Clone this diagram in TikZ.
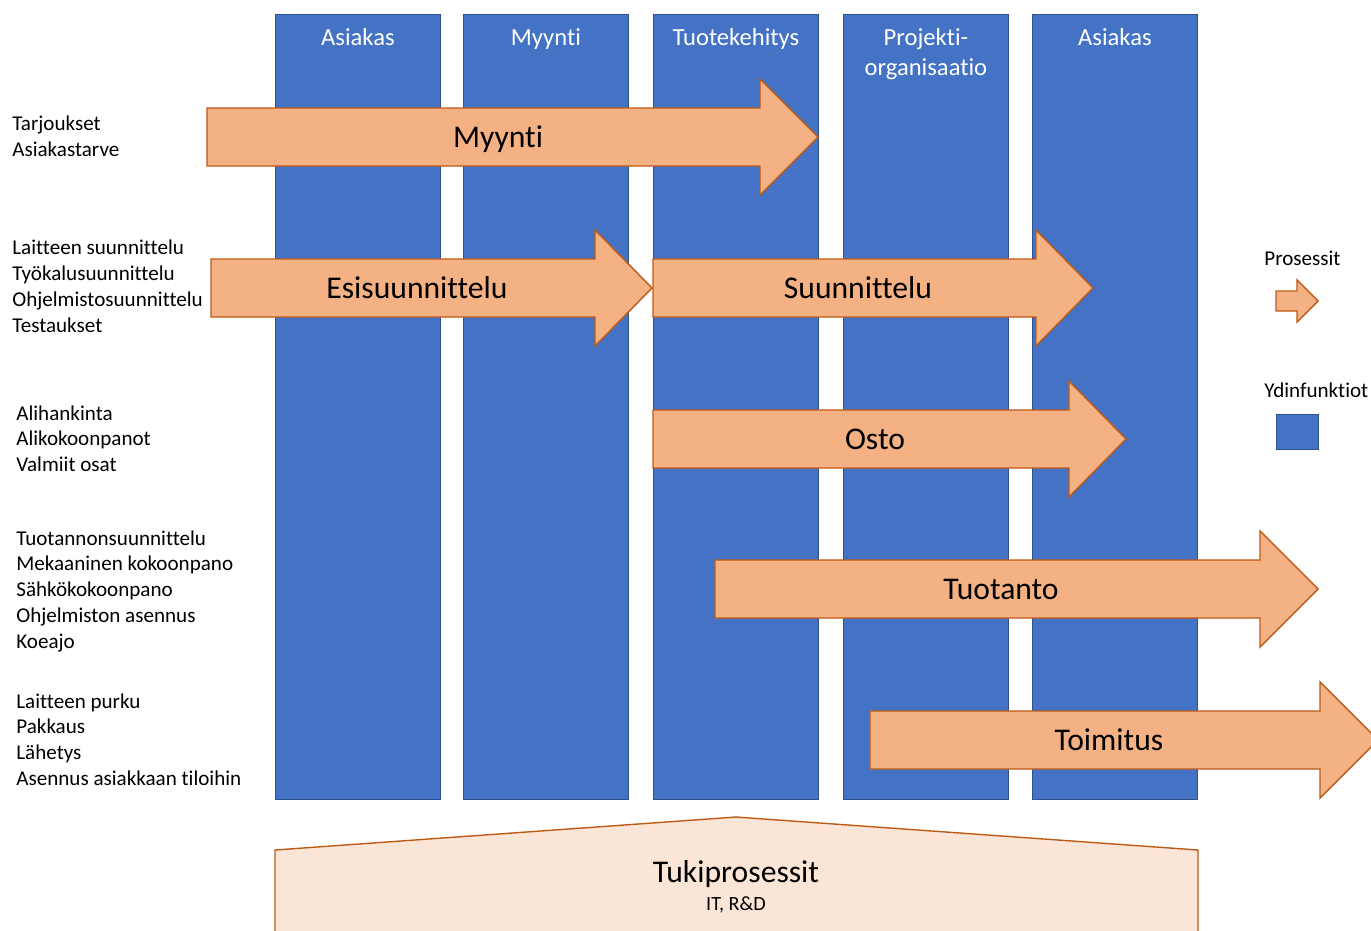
\documentclass[tikz,border=0pt]{standalone}
\usepackage{fontspec}
\setmainfont{Carlito}[Ligatures={NoCommon}]
\usepackage{tikz}
\usetikzlibrary{positioning}
\definecolor{ydinc}{HTML}{4472C4}
\definecolor{ydinrc}{HTML}{2F528F}
\definecolor{prosc}{HTML}{F4B183}
\definecolor{prosrc}{HTML}{BE5A17}
\definecolor{tukic}{HTML}{FBE5D6}

\begin{document}
\begin{tikzpicture}[x=0.02cm, y=-0.02cm,
  ydin/.style={draw=ydinrc, fill=ydinc, line width=0.5pt, inner sep=0pt,
    minimum width=3.3cm, minimum height=15.7cm},
  otsikko/.style={font=\fontsize{14}{17}\selectfont, text=white, align=center, inner sep=0pt},
  prosessi/.style={draw=prosrc, fill=prosc, line width=0.8pt, line join=miter},
  proslbl/.style={font=\fontsize{18}{22}\selectfont, inner sep=0pt},
  kuvaus/.style={font=\fontsize{12}{14.7}\selectfont, align=left, inner sep=0pt},
  selite/.style={font=\fontsize{12}{14.7}\selectfont, inner sep=0pt},
  tuki/.style={draw=prosrc, fill=tukic, line width=0.8pt}
]
  \useasboundingbox (0,0) rectangle (1371,930);
  \clip (0,0) rectangle (1371,930);

  % ydinfunktiot
  \foreach \x/\n/\t in {275/k1/Asiakas, 463/k2/Myynti, 653/k3/Tuotekehitys,
                        843/k4/{Projekti-\\organisaatio}, 1032/k5/Asiakas}{
    \node[ydin, anchor=north west] (\n) at (\x,14) {};
    \node[otsikko, anchor=north] (\n-t) at ([yshift=-0.28cm]\n.north) {\t};
  }

  % prosessit
  \foreach \xa/\xb/\xt/\yc/\lbl/\xl in {207/760/818/137/Myynti/498,
      211/595/652/288/Esisuunnittelu/417, 653/1036/1093/288/Suunnittelu/858,
      653/1069/1126/439/Osto/875, 715/1260/1318/589/Tuotanto/1001,
      870/1320/1378/740/Toimitus/1109}{
    \draw[prosessi] (\xa,\yc-29) -- (\xb,\yc-29) -- (\xb,\yc-58) -- (\xt,\yc)
      -- (\xb,\yc+58) -- (\xb,\yc+29) -- (\xa,\yc+29) -- cycle;
    \node[proslbl, anchor=base] (\lbl) at (\xl,\yc+10) {\lbl};
  }

  \node[kuvaus, anchor=north west] (myyntisis) at (12,116) {Tarjoukset\\Asiakastarve};
  \node[kuvaus, anchor=north west] (suunsis) at (12,240)
    {Laitteen suunnittelu\\Työkalusuunnittelu\\Ohjelmistosuunnittelu\\Testaukset};
  \node[kuvaus, anchor=north west] (ostosis) at (16,405)
    {Alihankinta\\Alikokoonpanot\\Valmiit osat};
  \node[kuvaus, anchor=north west] (tuotsis) at (16,530)
    {Tuotannonsuunnittelu\\Mekaaninen kokoonpano\\Sähkökokoonpano\\Ohjelmiston asennus\\Koeajo};
  \node[kuvaus, anchor=north west] (toimsis) at (16,693)
    {Laitteen purku\\Pakkaus\\Lähetys\\Asennus asiakkaan tiloihin};

  % selite
  \node[selite, anchor=base west] (prosselite) at (1264,265) {Prosessit};
  \draw[prosessi] (1276,291) -- (1297,291) -- (1297,280) -- (1318,301) -- (1297,322)
    -- (1297,311) -- (1276,311) -- cycle;
  \node[selite, anchor=base west] (ydinselite) at (1264,397) {Ydinfunktiot};
  \node[ydin, anchor=north west, minimum width=0.84cm, minimum height=0.7cm] (ydinruutu) at (1276,414) {};

  % tukiprosessit
  \draw[tuki] (275,945) -- (275,850) -- (736,817) -- (1198,850) -- (1198,945) -- cycle;
  \node[proslbl, anchor=base] (tuki) at (736,882) {Tukiprosessit};
  \node[font=\fontsize{11.5}{14}\selectfont, inner sep=0pt, anchor=base] (tukisis) at (736,910) {IT, R\&D};
\end{tikzpicture}
\end{document}
